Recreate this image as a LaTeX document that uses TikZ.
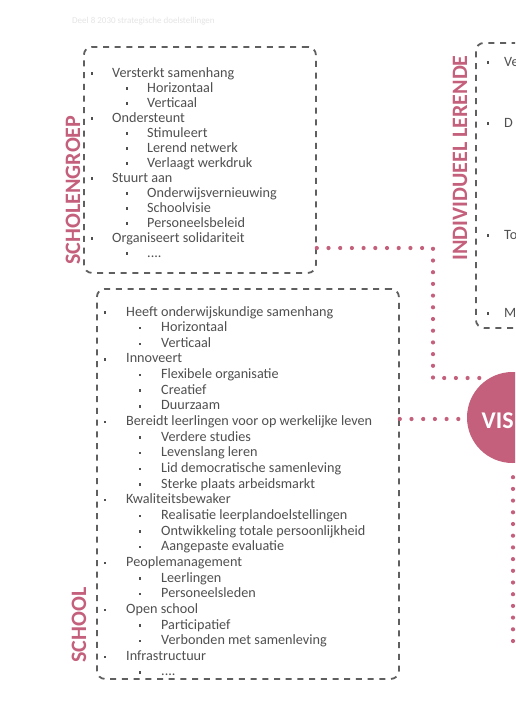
\documentclass[tikz,border=0pt]{standalone}
\usepackage{fontspec}
\setmainfont{Carlito}
\definecolor{pk}{RGB}{196,96,124}
\definecolor{tx}{RGB}{80,80,80}
\definecolor{bx}{RGB}{95,95,95}
\newcommand\fourdots{.\kern0pt.\kern0pt.\kern0pt.}
\begin{document}
\begin{tikzpicture}[x=1pt,y=-1pt,
  box/.style={draw=bx, line width=1.8pt, dash pattern=on 6pt off 5.7pt, rounded corners=8pt, inner sep=0pt, fill=none},
  dots/.style={draw=pk, line width=4.2pt, line cap=round, dash pattern=on 0pt off 11.7pt},
  txt/.style={text=tx, font=\fontsize{14.2}{16}\selectfont, inner sep=0pt, anchor=base west},
  bul/.style={fill=tx, minimum size=2.4pt, inner sep=0pt},
  lab/.style={text=pk, font=\fontsize{22}{26}\selectfont\bfseries, rotate=90, inner sep=0pt},
  faint/.style={text=black!10, font=\fontsize{9}{11}\selectfont, inner sep=0pt, anchor=base west}]
\useasboundingbox (0,0) rectangle (515,705);
\clip (0,0) rectangle (515,705);
\fill[white] (0,0) rectangle (515,705);

\node[faint] (hdr) at (72,23) {Deel 8 2030 strategische doelstellingen};

% boxes
\node[box, minimum width=232pt, minimum height=226pt, anchor=north west] (sgbox) at (83,46) {};
\node[box, minimum width=302pt, minimum height=390pt, anchor=north west] (schbox) at (96,288) {};
\node[box, minimum width=120pt, minimum height=285pt, anchor=north west] (ilbox) at (475,42) {};

% labels
\node[lab] (lsg) at (73,190) {SCHOLENGROEP};
\node[lab] (lsch) at (79,625) {SCHOOL};
\node[lab] (lil) at (460,158) {INDIVIDUEEL LERENDE};

% scholengroep list
\foreach \l/\t [count=\i from 0] in {1/Versterkt samenhang,2/Horizontaal,2/Verticaal,1/Ondersteunt,2/Stimuleert,2/Lerend netwerk,2/Verlaagt werkdruk,1/Stuurt aan,2/Onderwijsvernieuwing,2/Schoolvisie,2/Personeelsbeleid,1/Organiseert solidariteit,2/\fourdots}{
  \pgfmathsetmacro\yy{77+\i*15}
  \ifnum\l=1 \def\xb{92}\else\def\xb{127}\fi
  \node[bul] (sgb\i) at (\xb,\yy-3.6) {};
  \node[txt] (sgt\i) at (\xb+20,\yy) {\t};
}

% school list
\foreach \l/\t [count=\i from 0] in {1/Heeft onderwijskundige samenhang,2/Horizontaal,2/Verticaal,1/Innoveert,2/Flexibele organisatie,2/Creatief,2/Duurzaam,1/Bereidt leerlingen voor op werkelijke leven,2/Verdere studies,2/Levenslang leren,2/Lid democratische samenleving,2/Sterke plaats arbeidsmarkt,1/Kwaliteitsbewaker,2/Realisatie leerplandoelstellingen,2/Ontwikkeling totale persoonlijkheid,2/Aangepaste evaluatie,1/Peoplemanagement,2/Leerlingen,2/Personeelsleden,1/Open school,2/Participatief,2/Verbonden met samenleving,1/Infrastructuur,2/\fourdots}{
  \pgfmathsetmacro\yy{316+\i*15.65}
  \ifnum\l=1 \def\xb{105}\else\def\xb{140}\fi
  \node[bul] (scb\i) at (\xb,\yy-3.6) {};
  \node[txt] (sct\i) at (\xb+21,\yy) {\t};
}

% individueel lerende (cropped)
\foreach \t/\yy [count=\i] in {Ve/66, D/127, To/239, M/317}{
  \node[bul] (ilb\i) at (488,\yy-3.6) {};
  \node[txt] (ilt\i) at (504,\yy) {\t};
}

% visie
\node[circle, fill=pk, minimum size=91pt, inner sep=0pt] (visie) at (512.5,417.5) {};
\node[text=white, font=\fontsize{24}{28}\selectfont\bfseries, anchor=west, inner sep=0pt] (vtxt) at (481.5,421) {VIS};

% connectors
\coordinate (k1) at (433,248);
\coordinate (k2) at (433,378);
\coordinate (k3) at (482,378);
\draw[dots] (sgbox.east |- k1) -- (k1) -- (k2) -- (k3);
\draw[dots] (schbox.east |- 0,419) -- (visie.west |- 0,419);
\coordinate (k4) at (513,648);
\draw[dots] (visie.south -| k4) ++(0,14) -- (k4);
\end{tikzpicture}
\end{document}
